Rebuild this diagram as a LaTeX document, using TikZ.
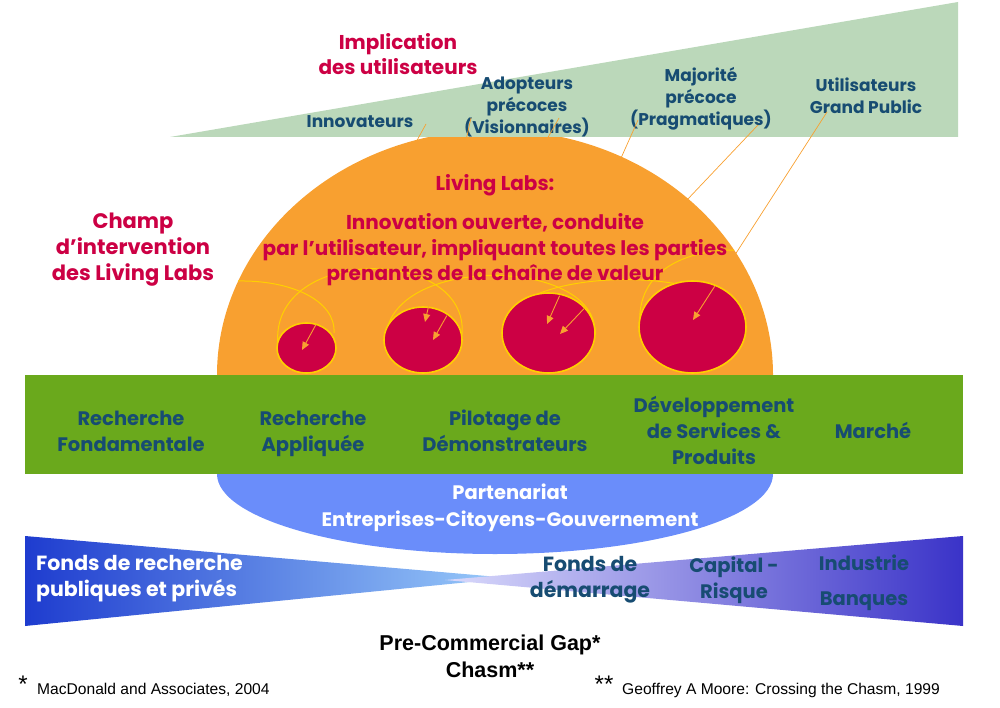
\documentclass[tikz,border=0pt]{standalone}
\usepackage{fontspec}
\setmainfont{Poppins}
\newfontfamily\arialfont{Liberation Sans}
\usetikzlibrary{calc}
\usetikzlibrary{arrows.meta}

\definecolor{crimson}{HTML}{CC0044}
\definecolor{navy}{HTML}{174C72}
\definecolor{palegreen}{HTML}{BBD8BA}
\definecolor{domeorange}{HTML}{F8A030}
\definecolor{labyellow}{HTML}{FFD000}
\definecolor{bandgreen}{HTML}{6AA91C}
\definecolor{partblue}{HTML}{6A8DFA}
\definecolor{deepblue}{HTML}{1E3CCF}
\definecolor{skyblue}{HTML}{9ACCFA}
\definecolor{lavender}{HTML}{DADAFB}
\definecolor{violetblue}{HTML}{3A33C8}

\begin{document}
\begin{tikzpicture}[x=1pt,y=-1pt,
	crim/.style={text=crimson,font=\bfseries\fontsize{20}{25.5}\selectfont,align=center,inner sep=0pt},
	users/.style={text=navy,font=\bfseries\fontsize{17}{22}\selectfont,align=center,inner sep=0pt},
	stage/.style={text=navy,font=\bfseries\fontsize{19.5}{26}\selectfont,align=center,inner sep=0pt},
	fund/.style={font=\bfseries\fontsize{20.5}{26}\selectfont,inner sep=0pt},
	note/.style={font=\arialfont\fontsize{15.6}{17}\selectfont,inner sep=0pt},
	lead/.style={draw=domeorange,line width=0.7pt},
	tip/.style={draw=domeorange,line width=0.9pt,-{Triangle[length=8pt,width=7pt]}},
	lab/.style={fill=crimson,draw=labyellow,line width=1.6pt},
	loop/.style={draw=labyellow,line width=1pt}]
	\useasboundingbox (0,0) rectangle (1000,708);

	% living lab dome, its top goes under the wedge
	\fill[domeorange] (217,375) arc[start angle=180,end angle=360,x radius=278,y radius=245] -- cycle;

	% adoption wedge
	\fill[palegreen] (170,137) -- (958,137) -- (958,2) -- cycle;

	\node[crim] (impl) at (398,54) {Implication\\des utilisateurs};
	\node[users] (innov) at (360,122) {Innovateurs};
	\node[users] (adopt) at (527,107) {Adopteurs\\précoces\\(Visionnaires)};
	\node[users] (major) at (701,99) {Majorité\\précoce\\(Pragmatiques)};
	\node[users] (public) at (866,96) {Utilisateurs\\Grand Public};

	% leader lines, label -> lab
	\coordinate (s1) at (426,124);  \coordinate (t1) at (302,350);
	\coordinate (s2) at (471,118);  \coordinate (t2) at (425,322);
	\coordinate (s3) at (559,118);  \coordinate (t3) at (433,340);
	\coordinate (s4) at (638,120);  \coordinate (t4) at (547,324);
	\coordinate (s5) at (758,125);  \coordinate (t5) at (560,334);
	\coordinate (s6) at (827,112);  \coordinate (t6) at (693,320);
	\foreach \i in {1,...,6}
		\draw[lead] (s\i) -- (t\i);

	\draw[loop] (238,281) .. controls (290,280) and (336,300) .. (334,333);
	\draw[loop] (278,345) .. controls (268,245) and (470,245) .. (462,335);
	\draw[loop] (386,345) .. controls (378,254) and (600,254) .. (595,335);
	\draw[loop] (503,335) .. controls (495,262) and (748,262) .. (746,330);
	\draw[loop] (640,327) .. controls (635,268) and (690,250) .. (734,250);

	\node[crim] (ll) at (495,185) {Living Labs:};
	\node[crim] (llbody) at (495,250) {Innovation ouverte, conduite\\par l’utilisateur, impliquant toutes les parties\\prenantes de la chaîne de valeur};
	\node[crim,font=\bfseries\fontsize{21}{26}\selectfont] (champ) at (133,250) {Champ\\d’intervention\\des Living Labs};

	\draw[lab] (306.5,348) ellipse[x radius=29.5,y radius=25];
	\draw[lab] (423,340) ellipse[x radius=39,y radius=33];
	\draw[lab] (548.5,333) ellipse[x radius=46.5,y radius=40];
	\draw[lab] (692.5,327) ellipse[x radius=53.5,y radius=46];

	\foreach \i/\len in {1/29,2/16,3/28,4/31,5/35,6/40}
		\draw[tip] ($(t\i)!\len pt!(s\i)$) -- (t\i);

	% partnership dome, its bottom goes under the funding
	\fill[partblue] (217,474) arc[start angle=180,end angle=0,x radius=278,y radius=80] -- cycle;

	% stages
	\fill[bandgreen] (25,375) rectangle (963,474);
	\node[stage] (fond) at (131,431) {Recherche\\Fondamentale};
	\node[stage] (appl) at (313,434) {Recherche\\Appliquée};
	\node[stage] (pilot) at (505,431) {Pilotage de\\Démonstrateurs};
	\node[stage] (dev) at (714,430) {Développement\\de Services \&\\Produits};
	\node[stage] (market) at (873,430) {Marché};

	\node[fund,text=white,align=center,font=\bfseries\fontsize{19.5}{27}\selectfont] (part) at (510,508) {Partenariat\\Entreprises-Citoyens-Gouvernement};

	% funding
	\shade[left color=deepblue,right color=skyblue] (25,536) -- (25,626) -- (510,578) -- cycle;
	\shade[left color=lavender,right color=violetblue] (963,536) -- (963,626) -- (445,580) -- cycle;
	\node[fund,text=white,align=left,anchor=west] (research) at (36,579) {Fonds de recherche\\publiques et privés};
	\node[fund,text=navy,align=center] (seed) at (590,580) {Fonds de\\démarrage};
	\node[fund,text=navy,align=center,font=\bfseries\fontsize{19.5}{26}\selectfont] (vc) at (734,580) {Capital -\\Risque};
	\node[fund,text=navy,align=center,font=\bfseries\fontsize{19.5}{35}\selectfont] (bank) at (864,583) {Industrie\\Banques};

	\node[align=center,inner sep=0pt,font=\arialfont\bfseries\fontsize{21.5}{27}\selectfont] (gap) at (490,656) {Pre-Commercial Gap*\\Chasm**};
	\node[inner sep=0pt,font=\arialfont\fontsize{24}{24}\selectfont] (star1) at (23,684) {*};
	\node[note,anchor=west] (ref1) at (37,690) {MacDonald and Associates, 2004};
	\node[inner sep=0pt,font=\arialfont\fontsize{24}{24}\selectfont] (star2) at (604,684) {**};
	\node[note,anchor=west] (ref2) at (622,690) {Geoffrey A Moore: Crossing the Chasm, 1999};
\end{tikzpicture}
\end{document}
